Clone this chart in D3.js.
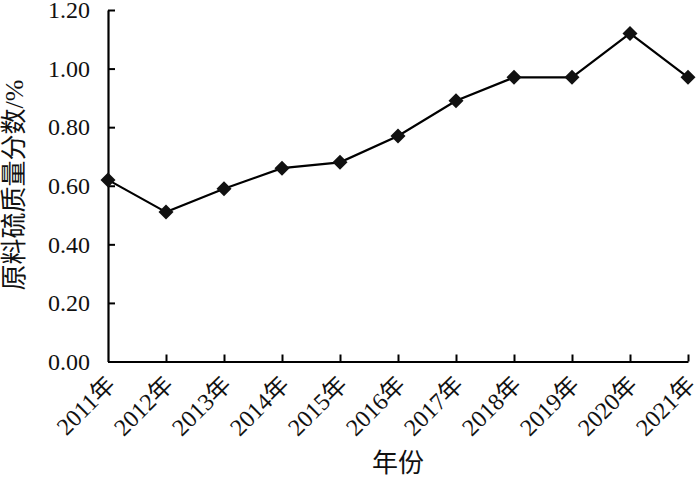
<!DOCTYPE html>
<html><head><meta charset="utf-8">
<script src="https://cdn.jsdelivr.net/npm/d3@7"></script>
<style>body{margin:0;background:#fff}svg{display:block}
.serif{font-family:"Liberation Serif","DejaVu Serif","Noto Sans CJK SC",serif}</style>
</head><body>
<svg id="c" width="700" height="486"></svg>
<script>
const categories = ["2011年","2012年","2013年","2014年","2015年","2016年","2017年","2018年","2019年","2020年","2021年"];
const values = [0.62, 0.51, 0.59, 0.66, 0.68, 0.77, 0.89, 0.97, 0.97, 1.12, 0.97];
const yTicks = [0, 0.2, 0.4, 0.6, 0.8, 1.0, 1.2];
const yTitle = "原料硫质量分数/%";
const xTitle = "年份";

const svg = d3.select("#c");
const mLeft = 108, mRight = 688, mTop = 10, mBottom = 361.5;
const x = d3.scalePoint().domain(categories).range([mLeft, mRight]);
const y = d3.scaleLinear().domain([0, 1.2]).range([mBottom, mTop]);

// axes
const yAxis = svg.append("g").attr("transform", `translate(${mLeft},0)`)
  .call(d3.axisLeft(y).tickValues(yTicks).tickFormat(d3.format(".2f")).tickSizeInner(-7).tickSizeOuter(0).tickPadding(18));
const xAxis = svg.append("g").attr("transform", `translate(0,${mBottom})`)
  .call(d3.axisBottom(x).tickSizeInner(-7).tickSizeOuter(0).tickFormat(() => ""));
[yAxis, xAxis].forEach(g => {
  g.attr("font-family", null).attr("font-size", null);
  g.select(".domain").attr("stroke", "#000").attr("stroke-width", 2.2);
  g.selectAll(".tick line").attr("stroke", "#000").attr("stroke-width", 2);
});
yAxis.selectAll(".tick text").attr("class", "serif").style("font-size", "24px").attr("fill", "#111");
xAxis.selectAll(".tick").filter(d => d === categories[0]).select("line").remove();

// x labels rotated
svg.append("g").selectAll("text").data(categories).join("text")
  .attr("class", "serif")
  .attr("transform", d => `translate(${x(d) - 4},${mBottom + 12}) rotate(-45)`)
  .attr("text-anchor", "end")
  .attr("dy", "0.75em")
  .style("font-size", "24px").attr("fill", "#111")
  .text(d => d);

// line
svg.append("path").datum(values)
  .attr("fill", "none").attr("stroke", "#000").attr("stroke-width", 2.2)
  .attr("d", d3.line().x((d, i) => x(categories[i])).y(d => y(d)));

// markers
svg.append("g").selectAll("path").data(values).join("path")
  .attr("transform", (d, i) => `translate(${x(categories[i])},${y(d)})`)
  .attr("d", "M0,-7.5L7.5,0L0,7.5L-7.5,0Z")
  .attr("fill", "#111");

// titles
svg.append("text").attr("class", "serif")
  .attr("transform", `translate(14,185) rotate(-90)`)
  .attr("text-anchor", "middle").attr("dominant-baseline", "central")
  .style("font-size", "26px").attr("fill", "#111")
  .text(yTitle);
svg.append("text").attr("class", "serif")
  .attr("x", 398).attr("y", 463)
  .attr("text-anchor", "middle").attr("dominant-baseline", "central")
  .style("font-size", "26px").attr("fill", "#111")
  .text(xTitle);
</script>
</body></html>
